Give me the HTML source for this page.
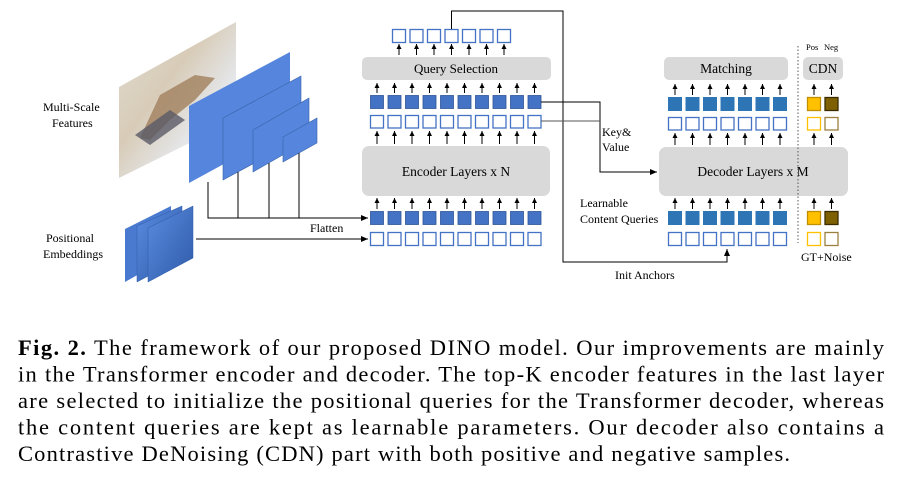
<!DOCTYPE html>
<html><head><meta charset="utf-8"><style>
html,body{margin:0;padding:0;background:#fff;width:898px;height:478px;overflow:hidden}
svg{display:block}
text{font-family:"Liberation Serif",serif}
</style></head><body>
<svg width="898" height="478" viewBox="0 0 898 478" xmlns="http://www.w3.org/2000/svg">
<defs>
<marker id="ah" markerWidth="8" markerHeight="8" refX="7" refY="4" orient="auto" markerUnits="userSpaceOnUse"><path d="M0,1 L7,4 L0,7 z" fill="#000"/></marker>
<marker id="sa" markerWidth="6" markerHeight="6" refX="5" refY="3" orient="auto" markerUnits="userSpaceOnUse"><path d="M0,0.5 L5,3 L0,5.5 z" fill="#000"/></marker>
<linearGradient id="img" x1="0" y1="0" x2="1" y2="1">
<stop offset="0" stop-color="#e0dcd2"/><stop offset="0.4" stop-color="#d8ccb8"/><stop offset="0.7" stop-color="#e6e9ee"/><stop offset="1" stop-color="#f4f6f8"/></linearGradient>
<linearGradient id="pe" x1="0" y1="0" x2="1" y2="1"><stop offset="0" stop-color="#5a8ce0"/><stop offset="1" stop-color="#2f5aa8"/></linearGradient>
</defs>

<text x="43" y="111" font-size="12">Multi-Scale</text>
<text x="52" y="127" font-size="12">Features</text>
<text x="46" y="242" font-size="12">Positional</text>
<text x="43" y="258" font-size="12">Embeddings</text>

<polygon points="119,87 236,22 236,120 119,178" fill="url(#img)"/>
<polygon points="160,95 195,75 215,78 195,100 170,120 150,140 140,138" fill="#a0805c" opacity="0.8"/>
<polygon points="135,135 170,110 185,120 150,145" fill="#5a5a66" opacity="0.8"/>
<polygon points="189,106 290,52 290,128 189,183" fill="#5585dc"/>
<polygon points="223,118 301,76 301,138 223,180" fill="#5585dc" stroke="#3a62a8" stroke-width="0.6"/>
<polygon points="253,130 309,98 309,140 253,172" fill="#5585dc" stroke="#3a62a8" stroke-width="0.6"/>
<polygon points="283,137 317,118 317,143 283,162" fill="#5585dc" stroke="#3a62a8" stroke-width="0.6"/>
<g stroke="#000" stroke-width="1" fill="none">
<path d="M208,182 V218 H368" marker-end="url(#ah)"/>
<path d="M238,172 V218"/><path d="M269,163 V218"/><path d="M299,153 V218"/>
<path d="M196,239 H368" marker-end="url(#ah)"/>
</g>
<polygon points="125,229 171,206 171,256 125,282" fill="#4a7ad0"/>
<polygon points="137,226 182,206 182,258 137,282" fill="url(#pe)" stroke="#2f5aa8" stroke-width="0.5"/>
<polygon points="148,228 193,206 193,258 148,282" fill="url(#pe)" stroke="#2f5aa8" stroke-width="0.5"/>
<text x="310" y="232" font-size="12">Flatten</text>

<rect x="362" y="57" width="189" height="23" rx="5" fill="#d9d9d9"/>
<text x="456" y="73" font-size="13" text-anchor="middle">Query Selection</text>
<rect x="362" y="146" width="188" height="50" rx="7" fill="#d9d9d9"/>
<text x="456" y="176" font-size="13.5" text-anchor="middle">Encoder Layers x N</text>
<g fill="#4472c4" stroke="#2f5597" stroke-width="0.8">
<rect x="370.5" y="95.5" width="13" height="13"/><rect x="388" y="95.5" width="13" height="13"/><rect x="405.5" y="95.5" width="13" height="13"/><rect x="423" y="95.5" width="13" height="13"/><rect x="440.5" y="95.5" width="13" height="13"/><rect x="458" y="95.5" width="13" height="13"/><rect x="475.5" y="95.5" width="13" height="13"/><rect x="493" y="95.5" width="13" height="13"/><rect x="510.5" y="95.5" width="13" height="13"/><rect x="528" y="95.5" width="13" height="13"/>
<rect x="370.5" y="211.5" width="13" height="13"/><rect x="388" y="211.5" width="13" height="13"/><rect x="405.5" y="211.5" width="13" height="13"/><rect x="423" y="211.5" width="13" height="13"/><rect x="440.5" y="211.5" width="13" height="13"/><rect x="458" y="211.5" width="13" height="13"/><rect x="475.5" y="211.5" width="13" height="13"/><rect x="493" y="211.5" width="13" height="13"/><rect x="510.5" y="211.5" width="13" height="13"/><rect x="528" y="211.5" width="13" height="13"/>
</g>
<g fill="#fff" stroke="#4472c4" stroke-width="1.3">
<rect x="370.5" y="115.5" width="13" height="12.5"/><rect x="388" y="115.5" width="13" height="12.5"/><rect x="405.5" y="115.5" width="13" height="12.5"/><rect x="423" y="115.5" width="13" height="12.5"/><rect x="440.5" y="115.5" width="13" height="12.5"/><rect x="458" y="115.5" width="13" height="12.5"/><rect x="475.5" y="115.5" width="13" height="12.5"/><rect x="493" y="115.5" width="13" height="12.5"/><rect x="510.5" y="115.5" width="13" height="12.5"/><rect x="528" y="115.5" width="13" height="12.5"/>
<rect x="370.5" y="232.5" width="13" height="13"/><rect x="388" y="232.5" width="13" height="13"/><rect x="405.5" y="232.5" width="13" height="13"/><rect x="423" y="232.5" width="13" height="13"/><rect x="440.5" y="232.5" width="13" height="13"/><rect x="458" y="232.5" width="13" height="13"/><rect x="475.5" y="232.5" width="13" height="13"/><rect x="493" y="232.5" width="13" height="13"/><rect x="510.5" y="232.5" width="13" height="13"/><rect x="528" y="232.5" width="13" height="13"/>
<rect x="392.5" y="29.5" width="13" height="13"/><rect x="410" y="29.5" width="13" height="13"/><rect x="427.5" y="29.5" width="13" height="13"/><rect x="445" y="29.5" width="13" height="13"/><rect x="462.5" y="29.5" width="13" height="13"/><rect x="480" y="29.5" width="13" height="13"/><rect x="497.5" y="29.5" width="13" height="13"/>
</g>
<g stroke="#000" stroke-width="1" marker-end="url(#sa)">
<path d="M377,209 V198"/><path d="M394.5,209 V198"/><path d="M412,209 V198"/><path d="M429.5,209 V198"/><path d="M447,209 V198"/><path d="M464.5,209 V198"/><path d="M482,209 V198"/><path d="M499.5,209 V198"/><path d="M517,209 V198"/><path d="M534.5,209 V198"/>
<path d="M377,144 V131"/><path d="M394.5,144 V131"/><path d="M412,144 V131"/><path d="M429.5,144 V131"/><path d="M447,144 V131"/><path d="M464.5,144 V131"/><path d="M482,144 V131"/><path d="M499.5,144 V131"/><path d="M517,144 V131"/><path d="M534.5,144 V131"/>
<path d="M377,93 V83"/><path d="M394.5,93 V83"/><path d="M412,93 V83"/><path d="M429.5,93 V83"/><path d="M447,93 V83"/><path d="M464.5,93 V83"/><path d="M482,93 V83"/><path d="M499.5,93 V83"/><path d="M517,93 V83"/><path d="M534.5,93 V83"/>
<path d="M399,55 V44"/><path d="M416.5,55 V44"/><path d="M434,55 V44"/><path d="M451.5,55 V44"/><path d="M469,55 V44"/><path d="M486.5,55 V44"/><path d="M504,55 V44"/>
</g>

<g stroke="#000" stroke-width="1" fill="none">
<path d="M451.5,29 V11 H563 V262 H727 V249" marker-end="url(#ah)"/>
<path d="M541,102 H600 V172 H657" marker-end="url(#ah)"/>
<path d="M541,121 H600" stroke="#555"/>
</g>
<text x="602" y="136" font-size="12">Key&amp;</text>
<text x="602" y="151" font-size="12">Value</text>
<text x="615" y="279" font-size="12">Init Anchors</text>
<text x="580" y="207" font-size="12">Learnable</text>
<text x="580" y="223" font-size="12">Content Queries</text>

<rect x="664" y="57" width="124" height="23" rx="5" fill="#d9d9d9"/>
<text x="726" y="73" font-size="13.5" text-anchor="middle">Matching</text>
<rect x="803" y="57" width="40" height="23" rx="5" fill="#d9d9d9"/>
<text x="823" y="73" font-size="13.5" text-anchor="middle">CDN</text>
<text x="806" y="50" font-size="8.5">Pos</text><text x="824" y="50" font-size="8.5">Neg</text>
<rect x="659" y="147" width="189" height="49" rx="7" fill="#d9d9d9"/>
<text x="753" y="176" font-size="13.5" text-anchor="middle">Decoder Layers x M</text>
<path d="M798,46 V243" stroke="#555" stroke-width="1" stroke-dasharray="1.5,2"/>
<g fill="#2e75b6" stroke="#2e75b6">
<rect x="668.5" y="97.5" width="13" height="13"/><rect x="686" y="97.5" width="13" height="13"/><rect x="703.5" y="97.5" width="13" height="13"/><rect x="721" y="97.5" width="13" height="13"/><rect x="738.5" y="97.5" width="13" height="13"/><rect x="756" y="97.5" width="13" height="13"/><rect x="773.5" y="97.5" width="13" height="13"/>
<rect x="668.5" y="211.5" width="13" height="13"/><rect x="686" y="211.5" width="13" height="13"/><rect x="703.5" y="211.5" width="13" height="13"/><rect x="721" y="211.5" width="13" height="13"/><rect x="738.5" y="211.5" width="13" height="13"/><rect x="756" y="211.5" width="13" height="13"/><rect x="773.5" y="211.5" width="13" height="13"/>
</g>
<g fill="#fff" stroke="#4472c4" stroke-width="1.3">
<rect x="668.5" y="117.5" width="13" height="12.5"/><rect x="686" y="117.5" width="13" height="12.5"/><rect x="703.5" y="117.5" width="13" height="12.5"/><rect x="721" y="117.5" width="13" height="12.5"/><rect x="738.5" y="117.5" width="13" height="12.5"/><rect x="756" y="117.5" width="13" height="12.5"/><rect x="773.5" y="117.5" width="13" height="12.5"/>
<rect x="668.5" y="232.5" width="13" height="13"/><rect x="686" y="232.5" width="13" height="13"/><rect x="703.5" y="232.5" width="13" height="13"/><rect x="721" y="232.5" width="13" height="13"/><rect x="738.5" y="232.5" width="13" height="13"/><rect x="756" y="232.5" width="13" height="13"/><rect x="773.5" y="232.5" width="13" height="13"/>
</g>
<g stroke-width="1.3">
<rect x="807.5" y="97.5" width="13" height="13" fill="#ffc000" stroke="#c09000"/>
<rect x="825" y="97.5" width="13" height="13" fill="#7f6000" stroke="#3a2c00"/>
<rect x="807.5" y="211.5" width="13" height="13" fill="#ffc000" stroke="#c09000"/>
<rect x="825" y="211.5" width="13" height="13" fill="#7f6000" stroke="#3a2c00"/>
<rect x="807.5" y="117.5" width="13" height="12.5" fill="#fff" stroke="#ffc000"/>
<rect x="825" y="117.5" width="13" height="12.5" fill="#fff" stroke="#9b8040"/>
<rect x="807.5" y="232.5" width="13" height="13" fill="#fff" stroke="#ffc000"/>
<rect x="825" y="232.5" width="13" height="13" fill="#fff" stroke="#9b8040"/>
</g>
<g stroke="#000" stroke-width="1" marker-end="url(#sa)">
<path d="M675,95 V84"/><path d="M692.5,95 V84"/><path d="M710,95 V84"/><path d="M727.5,95 V84"/><path d="M745,95 V84"/><path d="M762.5,95 V84"/><path d="M780,95 V84"/><path d="M814,95 V84"/><path d="M831.5,95 V84"/>
<path d="M675,145 V133"/><path d="M692.5,145 V133"/><path d="M710,145 V133"/><path d="M727.5,145 V133"/><path d="M745,145 V133"/><path d="M762.5,145 V133"/><path d="M780,145 V133"/><path d="M814,145 V133"/><path d="M831.5,145 V133"/>
<path d="M675,209 V198"/><path d="M692.5,209 V198"/><path d="M710,209 V198"/><path d="M727.5,209 V198"/><path d="M745,209 V198"/><path d="M762.5,209 V198"/><path d="M780,209 V198"/><path d="M814,209 V198"/><path d="M831.5,209 V198"/>
</g>
<text x="801" y="261" font-size="12">GT+Noise</text>

<g font-size="22.5">
<text x="18" y="355" textLength="866" lengthAdjust="spacing"><tspan font-weight="bold">Fig. 2.</tspan> The framework of our proposed DINO model. Our improvements are mainly</text>
<text x="18" y="381.5" textLength="866" lengthAdjust="spacing">in the Transformer encoder and decoder. The top-K encoder features in the last layer</text>
<text x="18" y="408" textLength="866" lengthAdjust="spacing">are selected to initialize the positional queries for the Transformer decoder, whereas</text>
<text x="18" y="434.5" textLength="866" lengthAdjust="spacing">the content queries are kept as learnable parameters. Our decoder also contains a</text>
<text x="18" y="461" textLength="772" lengthAdjust="spacing">Contrastive DeNoising (CDN) part with both positive and negative samples.</text>
</g>
</svg>
</body></html>
